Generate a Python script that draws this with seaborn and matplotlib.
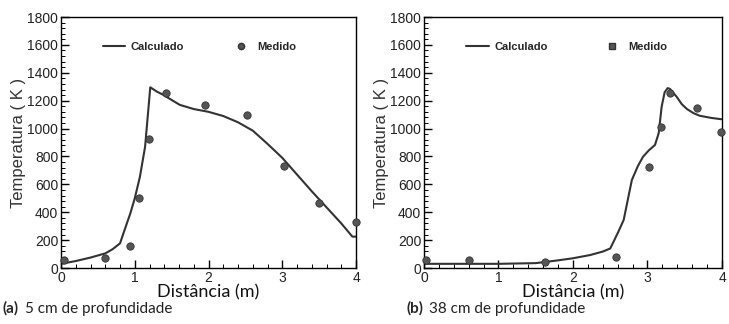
import matplotlib
matplotlib.use('Agg')
import matplotlib.pyplot as plt
from matplotlib.lines import Line2D
from matplotlib.ticker import MultipleLocator
import seaborn as sns
import pandas as pd

# (a) 5 cm de profundidade
calc_x_a = [0.0, 0.2, 0.4, 0.6, 0.7, 0.8, 0.86, 0.94, 1.0, 1.07, 1.14, 1.21, 1.3, 1.39, 1.5, 1.61,
            1.8, 2.0, 2.2, 2.4, 2.6, 2.8, 3.0, 3.2, 3.4, 3.6, 3.8, 3.95, 4.0]
calc_y_a = [30, 50, 75, 105, 135, 177, 270, 392, 500, 655, 870, 1296, 1265, 1241, 1205, 1170,
            1140, 1120, 1090, 1045, 985, 890, 790, 670, 550, 435, 320, 225, 225]
med_x_a = [0.04, 0.6, 0.93, 1.06, 1.19, 1.42, 1.95, 2.52, 3.02, 3.5, 4.0]
med_y_a = [57, 72, 160, 502, 923, 1253, 1170, 1100, 735, 465, 330]

# (b) 38 cm de profundidade
calc_x_b = [0.0, 0.5, 1.0, 1.5, 1.8, 2.0, 2.23, 2.4, 2.5, 2.6, 2.68, 2.79, 2.87, 2.94, 3.02,
            3.1, 3.15, 3.19, 3.23, 3.27, 3.3, 3.34, 3.39, 3.46, 3.53, 3.62, 3.7, 3.85, 3.99]
calc_y_b = [30, 30, 30, 35, 55, 70, 93, 118, 140, 250, 344, 631, 730, 798, 845,
            882, 966, 1157, 1260, 1290, 1285, 1260, 1229, 1175, 1140, 1110, 1092, 1077, 1067]
med_x_b = [0.03, 0.6, 1.62, 2.58, 3.02, 3.18, 3.3, 3.66, 3.98]
med_y_b = [55, 55, 40, 81, 727, 1009, 1253, 1145, 978]

panels = [
    ("a", "5 cm de profundidade", calc_x_a, calc_y_a, med_x_a, med_y_a, "o", 4.1),
    ("b", "38 cm de profundidade", calc_x_b, calc_y_b, med_x_b, med_y_b, "s", 4.8),
]

sns.set_style("white")
plt.rcParams['font.family'] = ['Liberation Sans', 'DejaVu Sans']

fig = plt.figure(figsize=(7.29, 3.24), dpi=100)
rects = [[0.0837, 0.1728, 0.4047, 0.7747], [0.5816, 0.1728, 0.4088, 0.7747]]
cap_x = [0.003, 0.558]

line_col = "#333333"
dot_col = "#555555"

for rect, cx, (tag, cap, cxs, cys, mxs, mys, lmark, colsp) in zip(rects, cap_x, panels):
    ax = fig.add_axes(rect)
    calc = pd.DataFrame({"x": cxs, "y": cys})
    med = pd.DataFrame({"x": mxs, "y": mys})
    sns.lineplot(data=calc, x="x", y="y", ax=ax, color=line_col, lw=1.5,
                 estimator=None, sort=False)
    sns.scatterplot(data=med, x="x", y="y", ax=ax, color=dot_col, s=28,
                    edgecolor="#333333", linewidth=0.6, zorder=3, clip_on=False)

    ax.set_xlim(0, 4)
    ax.set_ylim(0, 1800)
    ax.xaxis.set_major_locator(MultipleLocator(1))
    ax.xaxis.set_minor_locator(MultipleLocator(0.2))
    ax.yaxis.set_major_locator(MultipleLocator(200))
    ax.yaxis.set_minor_locator(MultipleLocator(40))
    ax.tick_params(which="both", direction="in", bottom=True, left=True,
                   top=False, right=False, colors="black", labelcolor="#222222")
    ax.tick_params(which="major", length=6, width=1, labelsize=10, pad=2)
    ax.tick_params(which="minor", length=3, width=0.7)
    for sp in ax.spines.values():
        sp.set_color("black")
        sp.set_linewidth(1.0)

    ax.set_ylabel("Temperatura ( K )", fontsize=12, color="#333333", labelpad=1)
    ax.set_xlabel("Distância (m)", fontsize=13, family=["Lato", "DejaVu Sans"],
                  color="#111111", labelpad=0)

    handles = [
        Line2D([], [], color=line_col, lw=1.5),
        Line2D([], [], color=dot_col, marker=lmark, ls="none", markersize=4.5,
               markeredgecolor="#333333"),
    ]
    ax.legend(handles, ["Calculado", "Medido"], ncol=2, frameon=False,
              loc="center left", bbox_to_anchor=(0.142, 0.88), borderpad=0,
              borderaxespad=0, handlelength=2.0, handletextpad=0.5,
              columnspacing=colsp, prop={"size": 8, "weight": "bold"})

    fig.text(cx, 0.047, "(%s)" % tag, fontsize=11, weight="bold",
             family=["Lato", "DejaVu Sans"], va="center", ha="left")
    fig.text(cx + 0.031, 0.047, cap, fontsize=11, family=["Lato", "DejaVu Sans"],
             va="center", ha="left", color="#222222")

fig.savefig("out.png", dpi=100)
